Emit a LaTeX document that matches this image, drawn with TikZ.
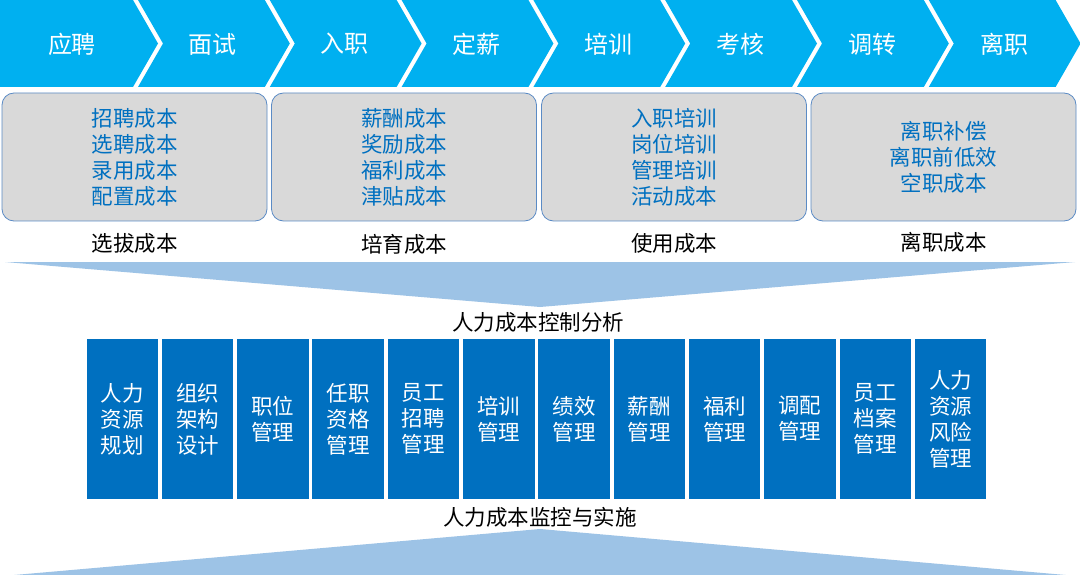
\documentclass[tikz,border=0pt]{standalone}
\usepackage{fontspec}
\setmainfont{Noto Sans CJK SC}
\usepackage{tikz}
\definecolor{stageblue}{HTML}{00B0F0}
\definecolor{boxgray}{HTML}{D9D9D9}
\definecolor{boxline}{HTML}{5B8BC5}
\definecolor{deepblue}{HTML}{0070C0}
\definecolor{funnelblue}{HTML}{9DC3E6}
\tikzstyle{stage} = [fill=stageblue]
\tikzstyle{stagetxt} = [text=white, inner sep=0pt, font=\fontsize{24}{28}\selectfont]
\tikzstyle{cost} = [rectangle, rounded corners=12pt, minimum width=265pt, minimum height=128pt, inner sep=0pt, align=center, draw=boxline, line width=0.8pt, fill=boxgray, text=deepblue, font=\fontsize{21.5}{26}\selectfont]
\tikzstyle{costname} = [text=black, inner sep=0pt, font=\fontsize{21.5}{26}\selectfont]
\tikzstyle{funnel} = [fill=funnelblue]
\tikzstyle{module} = [rectangle, minimum width=71.5pt, minimum height=160pt, inner sep=0pt, align=center, fill=deepblue, text=white, font=\fontsize{21.5}{26}\selectfont]

\begin{document}
\begin{tikzpicture}[x=1pt, y=-1pt]
      \useasboundingbox[fill=white] (0,0) rectangle (1080,575);
      % stages
      \fill[stage] (0,0) -- (133,0) -- (158,43.5) -- (133,87) -- (0,87) -- cycle;
      \fill[stage] (138,0) -- (264.8,0) -- (289.8,43.5) -- (264.8,87) -- (138,87) -- (163,43.5) -- cycle;
      \fill[stage] (269.8,0) -- (396.6,0) -- (421.6,43.5) -- (396.6,87) -- (269.8,87) -- (294.8,43.5) -- cycle;
      \fill[stage] (401.6,0) -- (528.4,0) -- (553.4,43.5) -- (528.4,87) -- (401.6,87) -- (426.6,43.5) -- cycle;
      \fill[stage] (533.4,0) -- (660.2,0) -- (685.2,43.5) -- (660.2,87) -- (533.4,87) -- (558.4,43.5) -- cycle;
      \fill[stage] (665.2,0) -- (792,0) -- (817,43.5) -- (792,87) -- (665.2,87) -- (690.2,43.5) -- cycle;
      \fill[stage] (797,0) -- (923.8,0) -- (948.8,43.5) -- (923.8,87) -- (797,87) -- (822,43.5) -- cycle;
      \fill[stage] (928.8,0) -- (1055.6,0) -- (1080.6,43.5) -- (1055.6,87) -- (928.8,87) -- (953.8,43.5) -- cycle;
      \node[stagetxt] (s1) at (72,44) {应聘};
      \node[stagetxt] (s2) at (212,44) {面试};
      \node[stagetxt] (s3) at (344,44) {入职};
      \node[stagetxt] (s4) at (476,44) {定薪};
      \node[stagetxt] (s5) at (608,44) {培训};
      \node[stagetxt] (s6) at (740,44) {考核};
      \node[stagetxt] (s7) at (872,44) {调转};
      \node[stagetxt] (s8) at (1004,44) {离职};

      % cost boxes
      \node[cost] (c1) at (134.5,157) {招聘成本\\选聘成本\\录用成本\\配置成本};
      \node[cost] (c2) at (404,157) {薪酬成本\\奖励成本\\福利成本\\津贴成本};
      \node[cost] (c3) at (674,157) {入职培训\\岗位培训\\管理培训\\活动成本};
      \node[cost] (c4) at (943.5,157) {离职补偿\\离职前低效\\空职成本};
      \node[costname] (n1) at (134.5,243) {选拔成本};
      \node[costname] (n2) at (404,244) {培育成本};
      \node[costname] (n3) at (674,243) {使用成本};
      \node[costname] (n4) at (943.5,242) {离职成本};

      \fill[funnel] (5,262) -- (1075,262) -- (540,307) -- cycle;
      \node[costname] (t1) at (538,322) {人力成本控制分析};

      % modules
      \node[module] (m1) at (122.25,419) {人力\\资源\\规划};
      \node[module] (m2) at (197.55,419) {组织\\架构\\设计};
      \node[module] (m3) at (272.85,419) {职位\\管理};
      \node[module] (m4) at (348.15,419) {任职\\资格\\管理};
      \node[module] (m5) at (423.45,419) {员工\\招聘\\管理};
      \node[module] (m6) at (498.75,419) {培训\\管理};
      \node[module] (m7) at (574.05,419) {绩效\\管理};
      \node[module] (m8) at (649.35,419) {薪酬\\管理};
      \node[module] (m9) at (724.65,419) {福利\\管理};
      \node[module] (m10) at (799.95,419) {调配\\管理};
      \node[module] (m11) at (875.25,419) {员工\\档案\\管理};
      \node[module] (m12) at (950.55,419) {人力\\资源\\风险\\管理};

      \node[costname] (t2) at (540,517) {人力成本监控与实施};
      \fill[funnel] (3,576) -- (540,529) -- (1077,576) -- cycle;
\end{tikzpicture}
\end{document}
